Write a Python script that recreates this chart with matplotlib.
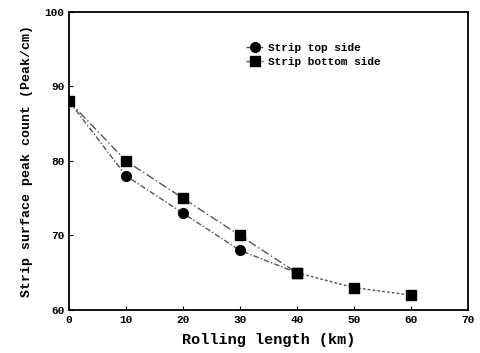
import numpy as np
import matplotlib
matplotlib.use("Agg")
import matplotlib.pyplot as plt

# rolling length (km)
x_top = [0, 10, 20, 30, 40]
y_top = [88, 78, 73, 68, 65]
x_bot = [0, 10, 20, 30, 40, 50, 60]
y_bot = [88, 80, 75, 70, 65, 63, 62]

xticks = [0, 10, 20, 30, 40, 50, 60, 70]
yticks = [60, 70, 80, 90, 100]

plt.rcParams['font.family'] = ['Liberation Mono', 'DejaVu Sans Mono']
plt.rcParams['font.weight'] = 'bold'

fig = plt.figure(figsize=(4.8, 3.53), dpi=100)
ax = fig.add_axes([0.144, 0.122, 0.83, 0.844])

ax.plot(x_top, y_top, color='#555555', lw=1.0, ls=(0, (4, 1.5, 1, 1.5)),
        marker='o', ms=7, mfc='black', mec='black', label='Strip top side')
ax.plot(x_bot[:5], y_bot[:5], color='#555555', lw=1.0, ls=(0, (6, 2, 1, 2)),
        marker='s', ms=7, mfc='black', mec='black', label='Strip bottom side')
ax.plot(x_bot[4:], y_bot[4:], color='#555555', lw=1.0, ls=(0, (2, 1.5)),
        marker='s', ms=7, mfc='black', mec='black')

ax.set_xlim(0, 70)
ax.set_ylim(60, 100)
ax.set_xticks(xticks)
ax.set_yticks(yticks)
ax.tick_params(direction='in', length=3, labelsize=8)
for s in ax.spines.values():
    s.set_linewidth(1.3)

ax.set_xlabel('Rolling length (km)', fontsize=11, fontweight='bold', labelpad=6)
ax.set_ylabel('Strip surface peak count (Peak/cm)', fontsize=9.5,
              fontweight='bold', labelpad=8)

ax.legend(loc='upper left', bbox_to_anchor=(0.42, 0.93), frameon=False,
          fontsize=8, handlelength=1.5, handletextpad=0.4, labelspacing=0.4)

fig.savefig('out.png', dpi=100)
